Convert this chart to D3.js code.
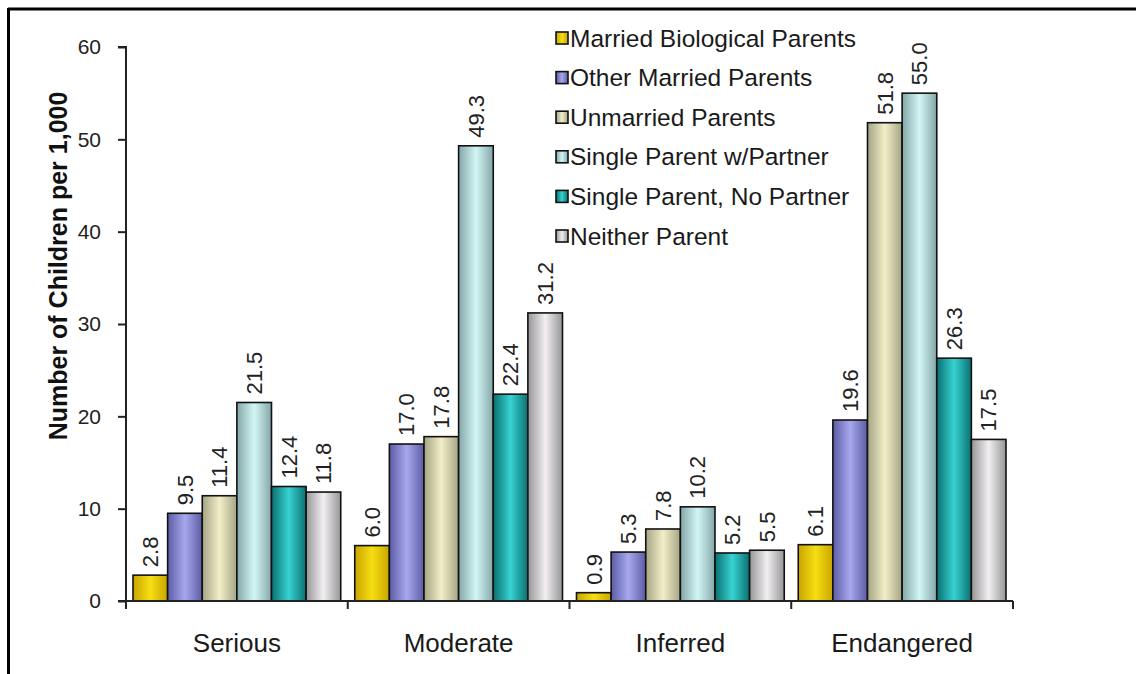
<!DOCTYPE html>
<html>
<head>
<meta charset="utf-8">
<script src="https://cdn.jsdelivr.net/npm/d3@7"></script>
<style>
  html, body { margin: 0; padding: 0; background: #fff; }
  svg { display: block; }
  text { font-family: "Liberation Sans", Arial, sans-serif; fill: #1a1a1a; }
</style>
</head>
<body>
<svg id="chart" width="1136" height="674"></svg>
<script>
const categories = ["Serious", "Moderate", "Inferred", "Endangered"];
const seriesNames = ["Married Biological Parents", "Other Married Parents", "Unmarried Parents",
                     "Single Parent w/Partner", "Single Parent, No Partner", "Neither Parent"];
const marriedBiological = [2.8, 6.0, 0.9, 6.1];
const otherMarried      = [9.5, 17.0, 5.3, 19.6];
const unmarried         = [11.4, 17.8, 7.8, 51.8];
const singleWithPartner = [21.5, 49.3, 10.2, 55.0];
const singleNoPartner   = [12.4, 22.4, 5.2, 26.3];
const neitherParent     = [11.8, 31.2, 5.5, 17.5];
const yTicks = [0, 10, 20, 30, 40, 50, 60];

const seriesValues = [marriedBiological, otherMarried, unmarried, singleWithPartner, singleNoPartner, neitherParent];
const edgeColors   = ["#c9a400", "#5c5ca6", "#a4a484", "#84a6a8", "#0a7070", "#969696"];
const centerColors = ["#f6de12", "#a8a8ee", "#f2eec8", "#d2f6f6", "#38d2d2", "#f2eef2"];

const svg = d3.select("#chart");
const defs = svg.append("defs");
seriesNames.forEach((s, i) => {
  const g = defs.append("linearGradient").attr("id", "grad" + i)
    .attr("x1", "0%").attr("x2", "100%").attr("y1", "0%").attr("y2", "0%");
  g.append("stop").attr("offset", "0%").attr("stop-color", edgeColors[i]);
  g.append("stop").attr("offset", "50%").attr("stop-color", centerColors[i]);
  g.append("stop").attr("offset", "100%").attr("stop-color", edgeColors[i]);
});

// frame
svg.append("line").attr("x1", 8).attr("x2", 1136).attr("y1", 9).attr("y2", 9)
  .attr("stroke", "#000").attr("stroke-width", 3);
svg.append("line").attr("x1", 8.5).attr("x2", 8.5).attr("y1", 8).attr("y2", 674)
  .attr("stroke", "#000").attr("stroke-width", 3);

const plotLeft = 126, plotRight = 1013, plotTop = 47, plotBottom = 601;

const x0 = d3.scaleBand().domain(categories).range([plotLeft, plotRight]).paddingInner(0).paddingOuter(0);
const x1 = d3.scaleBand().domain(d3.range(seriesNames.length))
  .range([7, x0.bandwidth() - 7]).padding(0);
const y = d3.scaleLinear().domain([0, 60]).range([plotBottom, plotTop]);

// bars
const groups = svg.append("g").selectAll("g").data(categories).join("g")
  .attr("transform", d => `translate(${x0(d)},0)`);

groups.each(function(cat, ci) {
  const g = d3.select(this);
  const vals = seriesValues.map((arr, si) => ({si, v: arr[ci]}));
  g.selectAll("rect").data(vals).join("rect")
    .attr("x", d => x1(d.si))
    .attr("y", d => y(d.v))
    .attr("width", x1.bandwidth())
    .attr("height", d => y(0) - y(d.v))
    .attr("fill", d => `url(#grad${d.si})`)
    .attr("stroke", "#111")
    .attr("stroke-width", 1.6);
  g.selectAll("text.val").data(vals).join("text")
    .attr("class", "val")
    .attr("transform", d => `translate(${x1(d.si) + x1.bandwidth() / 2},${y(d.v) - 8}) rotate(-90)`)
    .attr("dy", "0.35em")
    .attr("text-anchor", "start")
    .style("font-size", "22px")
    .style("fill", "#222")
    .text(d => d.v.toFixed(1));
});

// y axis
const yAxis = d3.axisLeft(y).tickValues(yTicks).tickSize(8).tickPadding(17).tickFormat(d3.format("d"));
const ya = svg.append("g").attr("transform", `translate(${plotLeft},0)`).call(yAxis);
ya.select(".domain").attr("stroke", "#222").attr("stroke-width", 2).attr("d", `M-8,${plotTop}H0V${plotBottom}`);
ya.selectAll(".tick line").attr("stroke", "#222").attr("stroke-width", 2);
ya.selectAll(".tick text").style("font-size", "21px").style("fill", "#222")
  .style("font-family", "\"Liberation Sans\", Arial, sans-serif");

// x axis
const xa = svg.append("g").attr("transform", `translate(0,${plotBottom})`);
xa.append("line").attr("x1", plotLeft - 8).attr("x2", plotRight).attr("y1", 0).attr("y2", 0)
  .attr("stroke", "#222").attr("stroke-width", 2);
const bounds = categories.map(c => x0(c)).concat([plotRight]);
xa.selectAll("line.tk").data(bounds).join("line").attr("class", "tk")
  .attr("x1", d => d).attr("x2", d => d).attr("y1", 0).attr("y2", 8)
  .attr("stroke", "#222").attr("stroke-width", 2);
xa.selectAll("text.cat").data(categories).join("text").attr("class", "cat")
  .attr("x", d => x0(d) + x0.bandwidth() / 2)
  .attr("y", 51)
  .attr("text-anchor", "middle")
  .style("font-size", "26px")
  .text(d => d);

// y title
svg.append("text")
  .attr("transform", `translate(67,266) rotate(-90)`)
  .attr("text-anchor", "middle")
  .style("font-size", "25px")
  .style("font-weight", "bold")
  .style("fill", "#111")
  .text("Number of Children per 1,000");

// legend
const legend = svg.append("g").attr("transform", "translate(556,38)");
const items = legend.selectAll("g").data(seriesNames).join("g")
  .attr("transform", (d, i) => `translate(0,${i * 39.6})`);
items.append("rect").attr("x", 0).attr("y", -6).attr("width", 12).attr("height", 12)
  .attr("fill", (d, i) => `url(#grad${i})`).attr("stroke", "#111").attr("stroke-width", 1.6);
items.append("text").attr("x", 14).attr("y", 8.5)
  .style("font-size", "24.5px")
  .text(d => d);
</script>
</body>
</html>
